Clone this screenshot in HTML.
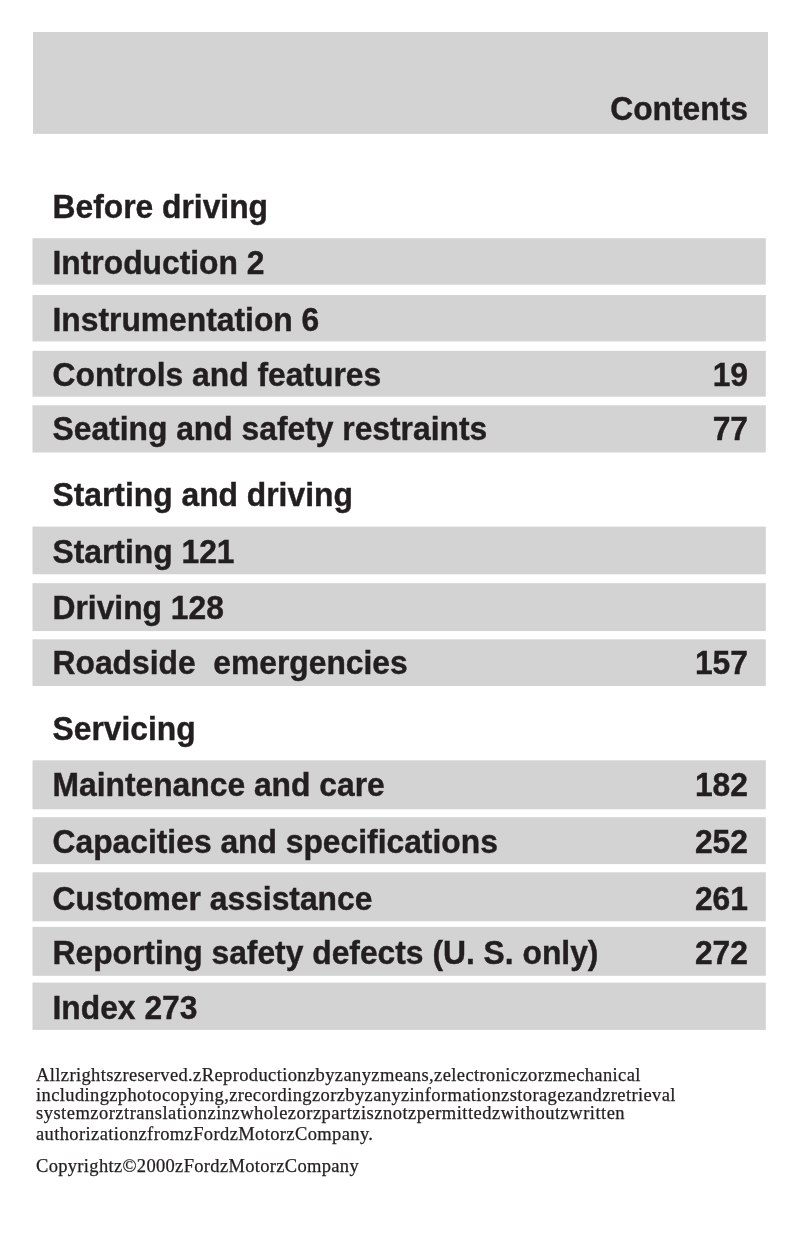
<!DOCTYPE html>
<html lang="en">
<head>
<meta charset="utf-8">
<title>Contents</title>
<style>
html,body{margin:0;padding:0;background:#fff;}
body{width:802px;height:1251px;position:relative;overflow:hidden;color:#231f20;}
.bars{position:absolute;left:0;top:0;}
.t{position:absolute;white-space:nowrap;font-family:"Liberation Sans",sans-serif;font-weight:bold;font-size:31.8px;line-height:40px;height:40px;letter-spacing:0px;-webkit-text-stroke:0.4px #231f20;transform:scaleY(1.07);transform-origin:0 31.02px;}
.r{text-align:right;}
.f{position:absolute;white-space:nowrap;font-family:"Liberation Serif", serif;font-size:18.5px;line-height:20px;height:20px;-webkit-text-stroke:0.25px #231f20;}
</style>
</head>
<body>
<svg class="bars" width="802" height="1251" viewBox="0 0 802 1251">
<rect x="33" y="32" width="735" height="101.9" fill="#d3d3d3"/>
<rect x="32.5" y="238.2" width="733.3" height="46.5" fill="#d3d3d3"/>
<rect x="32.5" y="295.0" width="733.3" height="46.4" fill="#d3d3d3"/>
<rect x="32.5" y="350.8" width="733.3" height="45.9" fill="#d3d3d3"/>
<rect x="32.5" y="405.3" width="733.3" height="47.2" fill="#d3d3d3"/>
<rect x="32.5" y="526.6" width="733.3" height="47.7" fill="#d3d3d3"/>
<rect x="32.5" y="583.2" width="733.3" height="47.9" fill="#d3d3d3"/>
<rect x="32.5" y="639.3" width="733.3" height="46.7" fill="#d3d3d3"/>
<rect x="32.5" y="760.3" width="733.3" height="49.0" fill="#d3d3d3"/>
<rect x="32.5" y="817.2" width="733.3" height="46.9" fill="#d3d3d3"/>
<rect x="32.5" y="872.3" width="733.3" height="49.0" fill="#d3d3d3"/>
<rect x="32.5" y="926.9" width="733.3" height="48.9" fill="#d3d3d3"/>
<rect x="32.5" y="982.6" width="733.3" height="47.3" fill="#d3d3d3"/>
</svg>
<div class="t r" style="left:400px;width:348.0px;top:89.38px">Contents</div>
<div class="t" style="left:52.5px;top:186.88px">Before driving</div>
<div class="t" style="left:52.5px;top:475.28px">Starting and driving</div>
<div class="t" style="left:52.5px;top:709.28px">Servicing</div>
<div class="t" style="left:52.5px;top:242.88px">Introduction 2</div>
<div class="t" style="left:52.5px;top:300.18px">Instrumentation 6</div>
<div class="t" style="left:52.5px;top:355.28px">Controls and features</div>
<div class="t r" style="left:600px;width:148.0px;top:355.28px">19</div>
<div class="t" style="left:52.5px;top:409.28px">Seating and safety restraints</div>
<div class="t r" style="left:600px;width:148.0px;top:409.28px">77</div>
<div class="t" style="left:52.5px;top:532.38px">Starting 121</div>
<div class="t" style="left:52.5px;top:587.88px">Driving 128</div>
<div class="t" style="left:52.5px;top:642.88px">Roadside&nbsp; emergencies</div>
<div class="t r" style="left:600px;width:148.0px;top:642.88px">157</div>
<div class="t" style="left:52.5px;top:765.18px">Maintenance and care</div>
<div class="t r" style="left:600px;width:148.0px;top:765.18px">182</div>
<div class="t" style="left:52.5px;top:822.28px">Capacities and specifications</div>
<div class="t r" style="left:600px;width:148.0px;top:822.28px">252</div>
<div class="t" style="left:52.5px;top:878.98px">Customer assistance</div>
<div class="t r" style="left:600px;width:148.0px;top:878.98px">261</div>
<div class="t" style="left:52.5px;top:932.88px">Reporting safety defects (U. S. only)</div>
<div class="t r" style="left:600px;width:148.0px;top:932.88px">272</div>
<div class="t" style="left:52.5px;top:987.88px">Index 273</div>
<div class="f" style="left:36.0px;top:1064.76px;letter-spacing:0.382px">Allzrightszreserved.zReproductionzbyzanyzmeans,zelectroniczorzmechanical</div>
<div class="f" style="left:36.0px;top:1084.76px;letter-spacing:0.377px">includingzphotocopying,zrecordingzorzbyzanyzinformationzstoragezandzretrieval</div>
<div class="f" style="left:36.0px;top:1102.76px;letter-spacing:0.483px">systemzorztranslationzinzwholezorzpartzisznotzpermittedzwithoutzwritten</div>
<div class="f" style="left:36.0px;top:1123.66px;letter-spacing:0.378px">authorizationzfromzFordzMotorzCompany.</div>
<div class="f" style="left:36.0px;top:1155.76px;letter-spacing:0.321px">Copyrightz©2000zFordzMotorzCompany</div>
</body>
</html>
